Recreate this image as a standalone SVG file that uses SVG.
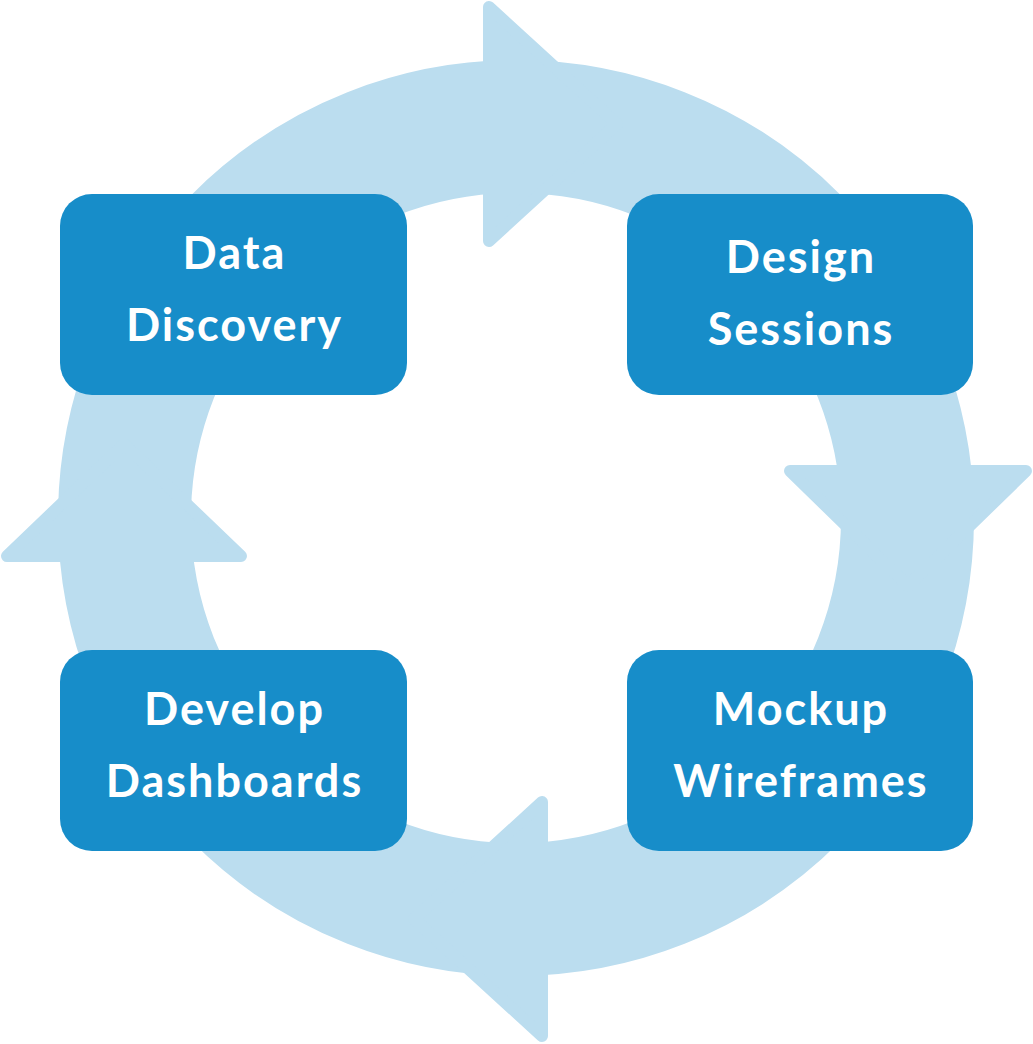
<svg xmlns="http://www.w3.org/2000/svg" width="1033" height="1044" viewBox="0 0 1033 1044">
<style>
.ring{fill:none;stroke:#BBDDEF;stroke-width:133}
.head{fill:#BBDDEF;stroke:#BBDDEF;stroke-width:12;stroke-linejoin:round}
.box{fill:#178DC9}
.lbl{fill:#FFFFFF;font-family:Lato,"Open Sans","DejaVu Sans",sans-serif;font-weight:bold;font-size:45px;text-anchor:middle;letter-spacing:2px}
</style>
<rect width="1033" height="1044" fill="#FFFFFF"/>
<g id="connectors">
<circle class="ring" cx="516" cy="518" r="391.5"/>
<polygon class="head" points="489,7 489,241 617,124"/>
<polygon class="head" points="790,471 1026,471 908,586"/>
<polygon class="head" points="7,556 241,556 124,444"/>
<polygon class="head" points="542,802 542,1036 414,919"/>
</g>
<g id="data-discovery">
<rect class="box" x="60" y="194" width="347" height="201" rx="32"/>
<text class="lbl" x="234.5" y="269">Data</text>
<text class="lbl" x="234.5" y="341">Discovery</text>
</g>
<g id="design-sessions">
<rect class="box" x="627" y="194" width="346" height="201" rx="32"/>
<text class="lbl" x="801" y="273">Design</text>
<text class="lbl" x="801" y="345">Sessions</text>
</g>
<g id="develop-dashboards">
<rect class="box" x="60" y="650" width="347" height="201" rx="32"/>
<text class="lbl" x="234.5" y="725">Develop</text>
<text class="lbl" x="234.5" y="797">Dashboards</text>
</g>
<g id="mockup-wireframes">
<rect class="box" x="627" y="650" width="346" height="201" rx="32"/>
<text class="lbl" x="801" y="725">Mockup</text>
<text class="lbl" x="801" y="797">Wireframes</text>
</g>
</svg>
